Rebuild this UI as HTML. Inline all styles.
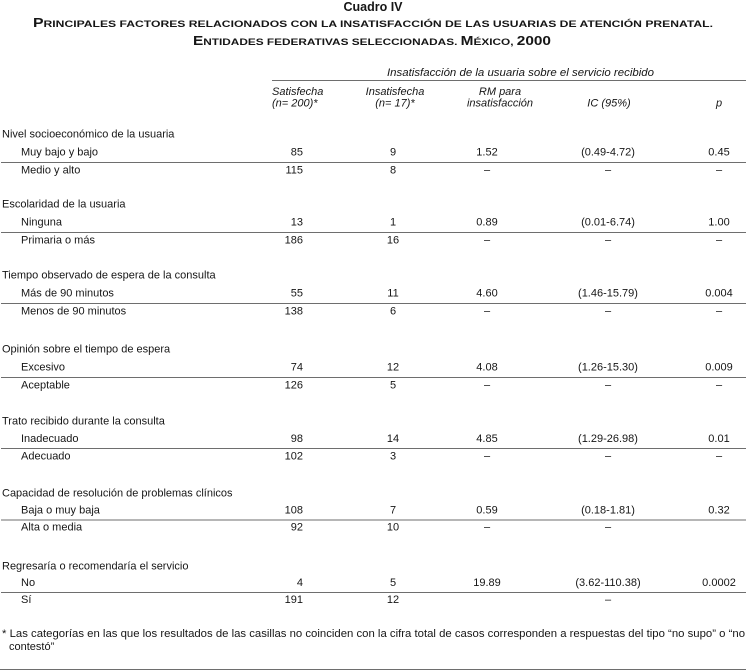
<!DOCTYPE html>
<html>
<head>
<meta charset="utf-8">
<style>
html,body{margin:0;padding:0;background:#fff;}
svg{display:block;}
text{font-family:"Liberation Sans","DejaVu Sans",sans-serif;fill:#161616;}
.b{font-weight:bold;}
.i{font-style:italic;}
.m{text-anchor:middle;}
.e{text-anchor:end;}
</style>
</head>
<body>
<svg width="746" height="671" viewBox="0 0 746 671" xmlns="http://www.w3.org/2000/svg" font-size="11">
  <!-- Titles -->
  <text x="373" y="11" class="b m" font-size="12.5">Cuadro IV</text>
  <text x="33" y="27" class="b" textLength="680" lengthAdjust="spacingAndGlyphs"><tspan font-size="12.5">P</tspan><tspan font-size="9.6">RINCIPALES FACTORES RELACIONADOS CON LA INSATISFACCIÓN DE LAS USUARIAS DE ATENCIÓN PRENATAL.</tspan></text>
  <text x="193" y="45" class="b" textLength="358" lengthAdjust="spacingAndGlyphs"><tspan font-size="12.5">E</tspan><tspan font-size="9.6">NTIDADES FEDERATIVAS SELECCIONADAS. </tspan><tspan font-size="12.5">M</tspan><tspan font-size="9.6">ÉXICO, </tspan><tspan font-size="12.5">2000</tspan></text>

  <!-- Column header -->
  <text x="387" y="76" class="i" textLength="267" lengthAdjust="spacingAndGlyphs">Insatisfacción de la usuaria sobre el servicio recibido</text>
  <rect x="272" y="80" width="474" height="1" fill="#6e6e6e"/>
  <text x="272" y="95" class="i">Satisfecha</text>
  <text x="272" y="106.5" class="i">(n= 200)*</text>
  <text x="395" y="95" class="i m">Insatisfecha</text>
  <text x="395" y="106.5" class="i m">(n= 17)*</text>
  <text x="500" y="95" class="i m">RM para</text>
  <text x="500" y="106.5" class="i m">insatisfacción</text>
  <text x="609" y="106.5" class="i m">IC (95%)</text>
  <text x="719" y="106.5" class="i m">p</text>

  <!-- Group 1 -->
  <text x="2" y="137.5">Nivel socioeconómico de la usuaria</text>
  <text x="21" y="155.5">Muy bajo y bajo</text>
  <text x="303" y="155.5" class="e">85</text>
  <text x="393" y="155.5" class="m">9</text>
  <text x="487" y="155.5" class="m">1.52</text>
  <text x="608" y="155.5" class="m">(0.49-4.72)</text>
  <text x="719" y="155.5" class="m">0.45</text>
  <rect x="1" y="162" width="745" height="1" fill="#6e6e6e"/>
  <text x="21" y="173.5">Medio y alto</text>
  <text x="303" y="173.5" class="e">115</text>
  <text x="393" y="173.5" class="m">8</text>
  <text x="487" y="173.5" class="m">–</text>
  <text x="608" y="173.5" class="m">–</text>
  <text x="719" y="173.5" class="m">–</text>

  <!-- Group 2 -->
  <text x="2" y="207.5">Escolaridad de la usuaria</text>
  <text x="21" y="225.5">Ninguna</text>
  <text x="303" y="225.5" class="e">13</text>
  <text x="393" y="225.5" class="m">1</text>
  <text x="487" y="225.5" class="m">0.89</text>
  <text x="608" y="225.5" class="m">(0.01-6.74)</text>
  <text x="719" y="225.5" class="m">1.00</text>
  <rect x="1" y="232" width="745" height="1" fill="#6e6e6e"/>
  <text x="21" y="243.5">Primaria o más</text>
  <text x="303" y="243.5" class="e">186</text>
  <text x="393" y="243.5" class="m">16</text>
  <text x="487" y="243.5" class="m">–</text>
  <text x="608" y="243.5" class="m">–</text>
  <text x="719" y="243.5" class="m">–</text>

  <!-- Group 3 -->
  <text x="2" y="278.5">Tiempo observado de espera de la consulta</text>
  <text x="21" y="296.5">Más de 90 minutos</text>
  <text x="303" y="296.5" class="e">55</text>
  <text x="393" y="296.5" class="m">11</text>
  <text x="487" y="296.5" class="m">4.60</text>
  <text x="608" y="296.5" class="m">(1.46-15.79)</text>
  <text x="719" y="296.5" class="m">0.004</text>
  <rect x="1" y="303" width="745" height="1" fill="#6e6e6e"/>
  <text x="21" y="314.5">Menos de 90 minutos</text>
  <text x="303" y="314.5" class="e">138</text>
  <text x="393" y="314.5" class="m">6</text>
  <text x="487" y="314.5" class="m">–</text>
  <text x="608" y="314.5" class="m">–</text>
  <text x="719" y="314.5" class="m">–</text>

  <!-- Group 4 -->
  <text x="2" y="352.5">Opinión sobre el tiempo de espera</text>
  <text x="21" y="370.5">Excesivo</text>
  <text x="303" y="370.5" class="e">74</text>
  <text x="393" y="370.5" class="m">12</text>
  <text x="487" y="370.5" class="m">4.08</text>
  <text x="608" y="370.5" class="m">(1.26-15.30)</text>
  <text x="719" y="370.5" class="m">0.009</text>
  <rect x="1" y="377" width="745" height="1" fill="#6e6e6e"/>
  <text x="21" y="388.5">Aceptable</text>
  <text x="303" y="388.5" class="e">126</text>
  <text x="393" y="388.5" class="m">5</text>
  <text x="487" y="388.5" class="m">–</text>
  <text x="608" y="388.5" class="m">–</text>
  <text x="719" y="388.5" class="m">–</text>

  <!-- Group 5 -->
  <text x="2" y="424.5">Trato recibido durante la consulta</text>
  <text x="21" y="442">Inadecuado</text>
  <text x="303" y="442" class="e">98</text>
  <text x="393" y="442" class="m">14</text>
  <text x="487" y="442" class="m">4.85</text>
  <text x="608" y="442" class="m">(1.29-26.98)</text>
  <text x="719" y="442" class="m">0.01</text>
  <rect x="1" y="448" width="745" height="1" fill="#6e6e6e"/>
  <text x="21" y="459.5">Adecuado</text>
  <text x="303" y="459.5" class="e">102</text>
  <text x="393" y="459.5" class="m">3</text>
  <text x="487" y="459.5" class="m">–</text>
  <text x="608" y="459.5" class="m">–</text>
  <text x="719" y="459.5" class="m">–</text>

  <!-- Group 6 -->
  <text x="2" y="496.5">Capacidad de resolución de problemas clínicos</text>
  <text x="21" y="513.5">Baja o muy baja</text>
  <text x="303" y="513.5" class="e">108</text>
  <text x="393" y="513.5" class="m">7</text>
  <text x="487" y="513.5" class="m">0.59</text>
  <text x="608" y="513.5" class="m">(0.18-1.81)</text>
  <text x="719" y="513.5" class="m">0.32</text>
  <rect x="1" y="519.5" width="745" height="1" fill="#6e6e6e"/>
  <text x="21" y="530.5">Alta o media</text>
  <text x="303" y="530.5" class="e">92</text>
  <text x="393" y="530.5" class="m">10</text>
  <text x="487" y="530.5" class="m">–</text>
  <text x="608" y="530.5" class="m">–</text>

  <!-- Group 7 -->
  <text x="2" y="569.5">Regresaría o recomendaría el servicio</text>
  <text x="21" y="586">No</text>
  <text x="303" y="586" class="e">4</text>
  <text x="393" y="586" class="m">5</text>
  <text x="487" y="586" class="m">19.89</text>
  <text x="608" y="586" class="m">(3.62-110.38)</text>
  <text x="719" y="586" class="m">0.0002</text>
  <rect x="1" y="592" width="745" height="1" fill="#6e6e6e"/>
  <text x="21" y="603">Sí</text>
  <text x="303" y="603" class="e">191</text>
  <text x="393" y="603" class="m">12</text>
  <text x="608" y="603" class="m">–</text>

  <!-- Footnote -->
  <text x="2" y="637" textLength="743" lengthAdjust="spacingAndGlyphs">* Las categorías en las que los resultados de las casillas no coinciden con la cifra total de casos corresponden a respuestas del tipo “no supo” o “no</text>
  <text x="9" y="650">contestó”</text>

  <rect x="0" y="669" width="746" height="1" fill="#6e6e6e"/>
</svg>
</body>
</html>
